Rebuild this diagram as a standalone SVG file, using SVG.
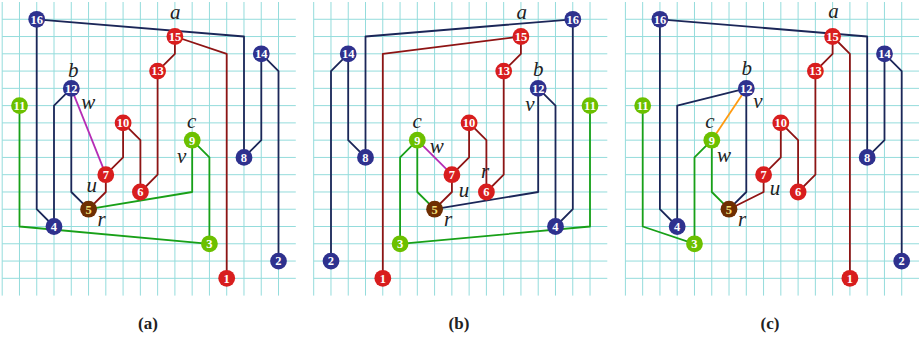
<svg xmlns="http://www.w3.org/2000/svg" width="924" height="340" viewBox="0 0 924 340">
<defs>
<style>
.gl{stroke:#94dcdc;stroke-width:1}
.e{fill:none;stroke-width:1.8;stroke-linejoin:round}
.nv{stroke:#1b2658}
.rd{stroke:#8e1414}
.gr{stroke:#18a018}
.mg{stroke:#b52cb5}
.or{stroke:#ff9a10}
.n circle{stroke:none}
.b circle{fill:#2e318e}
.r circle{fill:#d81e1e}
.g circle{fill:#6cc000}
.br circle{fill:#6e2e02}
.n text{font-family:"Liberation Serif",serif;font-weight:bold;font-size:12.5px;fill:#fff;text-anchor:middle}
.br text{fill:#f4e27a}
.lb{font-family:"Liberation Serif",serif;font-style:italic;font-size:21px;fill:#222;text-anchor:middle}
.cap{font-family:"Liberation Serif",serif;font-weight:bold;font-size:17px;fill:#222;text-anchor:middle}
</style>
<g id="grid">
<path class="gl" d="M0 2V295.6M17.27 2V295.6M34.54 2V295.6M51.81 2V295.6M69.08 2V295.6M86.35 2V295.6M103.62 2V295.6M120.89 2V295.6M138.16 2V295.6M155.43 2V295.6M172.7 2V295.6M189.97 2V295.6M207.24 2V295.6M224.51 2V295.6M241.78 2V295.6M259.05 2V295.6M276.32 2V295.6"/>
<path class="gl" d="M0 19.27H293.6M0 36.54H293.6M0 53.81H293.6M0 71.08H293.6M0 88.35H293.6M0 105.62H293.6M0 122.89H293.6M0 140.16H293.6M0 157.43H293.6M0 174.7H293.6M0 191.97H293.6M0 209.24H293.6M0 226.51H293.6M0 243.78H293.6M0 261.05H293.6M0 278.32H293.6"/>
</g>
</defs>

<!-- Panel (a) -->
<g id="panel-a" transform="translate(2.2,0)">
<use href="#grid"/>
<g id="a-edges">
<polyline class="e nv" points="34.5,19.3 241.8,36.5 241.8,157.4"/>
<polyline class="e nv" points="34.5,19.3 34.5,209.2 51.8,226.5"/>
<polyline class="e nv" points="69.1,88.4 51.8,105.6 51.8,226.5"/>
<polyline class="e nv" points="69.1,88.4 69.1,192 86.4,209.2"/>
<polyline class="e nv" points="259.1,53.8 276.3,71.1 276.3,261.1"/>
<polyline class="e nv" points="259.1,53.8 259.1,140.2 241.8,157.4"/>
<polyline class="e rd" points="103.6,174.7 120.9,157.4 120.9,122.9"/>
<polyline class="e rd" points="103.6,174.7 103.6,192 86.4,209.2"/>
<polyline class="e rd" points="120.9,122.9 138.2,140.2 138.2,192"/>
<polyline class="e rd" points="138.2,192 155.4,174.7 155.4,71.1"/>
<polyline class="e rd" points="155.4,71.1 172.7,53.8 172.7,36.5"/>
<polyline class="e rd" points="172.7,36.5 224.5,53.8 224.5,278.3"/>
<polyline class="e gr" points="17.3,105.6 17.3,226.5 207.2,243.8"/>
<polyline class="e gr" points="207.2,243.8 207.2,157.4 190,140.2"/>
<polyline class="e gr" points="190,140.2 190,192 86.4,209.2"/>
<line class="e mg" x1="69.1" y1="88.4" x2="103.6" y2="174.7"/>
</g>
<g id="a16" class="n b"><circle cx="34.5" cy="19.3" r="8.4"/><text x="34.5" y="23.6">16</text></g>
<g id="a15" class="n r"><circle cx="172.7" cy="36.5" r="8.4"/><text x="172.7" y="40.8">15</text></g>
<g id="a14" class="n b"><circle cx="259.1" cy="53.8" r="8.4"/><text x="259.1" y="58.1">14</text></g>
<g id="a13" class="n r"><circle cx="155.4" cy="71.1" r="8.4"/><text x="155.4" y="75.4">13</text></g>
<g id="a12" class="n b"><circle cx="69.1" cy="88.4" r="8.4"/><text x="69.1" y="92.7">12</text></g>
<g id="a11" class="n g"><circle cx="17.3" cy="105.6" r="8.4"/><text x="17.3" y="109.9">11</text></g>
<g id="a10" class="n r"><circle cx="120.9" cy="122.9" r="8.4"/><text x="120.9" y="127.2">10</text></g>
<g id="a9" class="n g"><circle cx="190" cy="140.2" r="8.4"/><text x="190" y="144.5">9</text></g>
<g id="a8" class="n b"><circle cx="241.8" cy="157.4" r="8.4"/><text x="241.8" y="161.7">8</text></g>
<g id="a7" class="n r"><circle cx="103.6" cy="174.7" r="8.4"/><text x="103.6" y="179">7</text></g>
<g id="a6" class="n r"><circle cx="138.2" cy="192" r="8.4"/><text x="138.2" y="196.3">6</text></g>
<g id="a5" class="n br"><circle cx="86.4" cy="209.2" r="8.4"/><text x="86.4" y="213.5">5</text></g>
<g id="a4" class="n b"><circle cx="51.8" cy="226.5" r="8.4"/><text x="51.8" y="230.8">4</text></g>
<g id="a3" class="n g"><circle cx="207.2" cy="243.8" r="8.4"/><text x="207.2" y="248.1">3</text></g>
<g id="a2" class="n b"><circle cx="276.3" cy="261.1" r="8.4"/><text x="276.3" y="265.4">2</text></g>
<g id="a1" class="n r"><circle cx="224.5" cy="278.3" r="8.4"/><text x="224.5" y="282.6">1</text></g>
<g id="a-labels">
<text class="lb" x="173" y="19">a</text>
<text class="lb" x="71" y="77">b</text>
<text class="lb" x="86" y="109">w</text>
<text class="lb" x="189.5" y="127.5">c</text>
<text class="lb" x="179.5" y="163">v</text>
<text class="lb" x="89.5" y="192">u</text>
<text class="lb" x="99.5" y="226">r</text>
</g>
</g>

<!-- Panel (b) -->
<g id="panel-b" transform="translate(313.7,0)">
<use href="#grid"/>
<g id="b-edges">
<polyline class="e nv" points="259.1,19.3 51.8,36.5 51.8,157.4"/>
<polyline class="e nv" points="259.1,19.3 259.1,209.2 241.8,226.5"/>
<polyline class="e nv" points="224.5,88.4 241.8,105.6 241.8,226.5"/>
<polyline class="e nv" points="224.5,88.4 224.5,192 120.9,209.2"/>
<polyline class="e nv" points="34.5,53.8 17.3,71.1 17.3,261.1"/>
<polyline class="e nv" points="34.5,53.8 34.5,140.2 51.8,157.4"/>
<polyline class="e rd" points="207.2,36.5 69.1,53.8 69.1,278.3"/>
<polyline class="e rd" points="207.2,36.5 207.2,53.8 190,71.1"/>
<polyline class="e rd" points="190,71.1 190,174.7 172.7,192"/>
<polyline class="e rd" points="155.4,122.9 172.7,140.2 172.7,192"/>
<polyline class="e rd" points="155.4,122.9 155.4,157.4 138.2,174.7"/>
<polyline class="e rd" points="138.2,174.7 138.2,192 120.9,209.2"/>
<polyline class="e gr" points="103.6,140.2 103.6,192 120.9,209.2"/>
<polyline class="e gr" points="103.6,140.2 86.4,157.4 86.4,243.8"/>
<polyline class="e gr" points="86.4,243.8 276.3,226.5 276.3,105.6"/>
<line class="e mg" x1="103.6" y1="140.2" x2="138.2" y2="174.7"/>
</g>
<g id="b16" class="n b"><circle cx="259.1" cy="19.3" r="8.4"/><text x="259.1" y="23.6">16</text></g>
<g id="b15" class="n r"><circle cx="207.2" cy="36.5" r="8.4"/><text x="207.2" y="40.8">15</text></g>
<g id="b14" class="n b"><circle cx="34.5" cy="53.8" r="8.4"/><text x="34.5" y="58.1">14</text></g>
<g id="b13" class="n r"><circle cx="190" cy="71.1" r="8.4"/><text x="190" y="75.4">13</text></g>
<g id="b12" class="n b"><circle cx="224.5" cy="88.4" r="8.4"/><text x="224.5" y="92.7">12</text></g>
<g id="b11" class="n g"><circle cx="276.3" cy="105.6" r="8.4"/><text x="276.3" y="109.9">11</text></g>
<g id="b10" class="n r"><circle cx="155.4" cy="122.9" r="8.4"/><text x="155.4" y="127.2">10</text></g>
<g id="b9" class="n g"><circle cx="103.6" cy="140.2" r="8.4"/><text x="103.6" y="144.5">9</text></g>
<g id="b8" class="n b"><circle cx="51.8" cy="157.4" r="8.4"/><text x="51.8" y="161.7">8</text></g>
<g id="b7" class="n r"><circle cx="138.2" cy="174.7" r="8.4"/><text x="138.2" y="179">7</text></g>
<g id="b6" class="n r"><circle cx="172.7" cy="192" r="8.4"/><text x="172.7" y="196.3">6</text></g>
<g id="b5" class="n br"><circle cx="120.9" cy="209.2" r="8.4"/><text x="120.9" y="213.5">5</text></g>
<g id="b4" class="n b"><circle cx="241.8" cy="226.5" r="8.4"/><text x="241.8" y="230.8">4</text></g>
<g id="b3" class="n g"><circle cx="86.4" cy="243.8" r="8.4"/><text x="86.4" y="248.1">3</text></g>
<g id="b2" class="n b"><circle cx="17.3" cy="261.1" r="8.4"/><text x="17.3" y="265.4">2</text></g>
<g id="b1" class="n r"><circle cx="69.1" cy="278.3" r="8.4"/><text x="69.1" y="282.6">1</text></g>
<g id="b-labels">
<text class="lb" x="208" y="19">a</text>
<text class="lb" x="224.6" y="76">b</text>
<text class="lb" x="216.3" y="111">v</text>
<text class="lb" x="103.6" y="128">c</text>
<text class="lb" x="123" y="153">w</text>
<text class="lb" x="150.3" y="196.5">u</text>
<text class="lb" x="134.3" y="226">r</text>
<text class="lb" x="171.3" y="178">r</text>
</g>
</g>

<!-- Panel (c) -->
<g id="panel-c" transform="translate(625.4,0)">
<use href="#grid"/>
<g id="c-edges">
<polyline class="e nv" points="34.5,19.3 241.8,36.5 241.8,157.4"/>
<polyline class="e nv" points="34.5,19.3 34.5,209.2 51.8,226.5"/>
<polyline class="e nv" points="120.9,88.4 51.8,105.6 51.8,226.5"/>
<polyline class="e nv" points="120.9,88.4 120.9,192 103.6,209.2"/>
<polyline class="e nv" points="259.1,53.8 276.3,71.1 276.3,261.1"/>
<polyline class="e nv" points="259.1,53.8 259.1,140.2 241.8,157.4"/>
<polyline class="e rd" points="207.2,36.5 224.5,53.8 224.5,278.3"/>
<polyline class="e rd" points="207.2,36.5 207.2,53.8 190,71.1"/>
<polyline class="e rd" points="190,71.1 190,174.7 172.7,192"/>
<polyline class="e rd" points="155.4,122.9 172.7,140.2 172.7,192"/>
<polyline class="e rd" points="155.4,122.9 155.4,157.4 138.2,174.7"/>
<polyline class="e rd" points="138.2,174.7 138.2,192 103.6,209.2"/>
<polyline class="e gr" points="86.4,140.2 86.4,192 103.6,209.2"/>
<polyline class="e gr" points="86.4,140.2 69.1,157.4 69.1,243.8"/>
<polyline class="e gr" points="17.3,105.6 17.3,226.5 69.1,243.8"/>
<line class="e or" x1="120.9" y1="88.4" x2="86.4" y2="140.2"/>
</g>
<g id="c16" class="n b"><circle cx="34.5" cy="19.3" r="8.4"/><text x="34.5" y="23.6">16</text></g>
<g id="c15" class="n r"><circle cx="207.2" cy="36.5" r="8.4"/><text x="207.2" y="40.8">15</text></g>
<g id="c14" class="n b"><circle cx="259.1" cy="53.8" r="8.4"/><text x="259.1" y="58.1">14</text></g>
<g id="c13" class="n r"><circle cx="190" cy="71.1" r="8.4"/><text x="190" y="75.4">13</text></g>
<g id="c12" class="n b"><circle cx="120.9" cy="88.4" r="8.4"/><text x="120.9" y="92.7">12</text></g>
<g id="c11" class="n g"><circle cx="17.3" cy="105.6" r="8.4"/><text x="17.3" y="109.9">11</text></g>
<g id="c10" class="n r"><circle cx="155.4" cy="122.9" r="8.4"/><text x="155.4" y="127.2">10</text></g>
<g id="c9" class="n g"><circle cx="86.4" cy="140.2" r="8.4"/><text x="86.4" y="144.5">9</text></g>
<g id="c8" class="n b"><circle cx="241.8" cy="157.4" r="8.4"/><text x="241.8" y="161.7">8</text></g>
<g id="c7" class="n r"><circle cx="138.2" cy="174.7" r="8.4"/><text x="138.2" y="179">7</text></g>
<g id="c6" class="n r"><circle cx="172.7" cy="192" r="8.4"/><text x="172.7" y="196.3">6</text></g>
<g id="c5" class="n br"><circle cx="103.6" cy="209.2" r="8.4"/><text x="103.6" y="213.5">5</text></g>
<g id="c4" class="n b"><circle cx="51.8" cy="226.5" r="8.4"/><text x="51.8" y="230.8">4</text></g>
<g id="c3" class="n g"><circle cx="69.1" cy="243.8" r="8.4"/><text x="69.1" y="248.1">3</text></g>
<g id="c2" class="n b"><circle cx="276.3" cy="261.1" r="8.4"/><text x="276.3" y="265.4">2</text></g>
<g id="c1" class="n r"><circle cx="224.5" cy="278.3" r="8.4"/><text x="224.5" y="282.6">1</text></g>
<g id="c-labels">
<text class="lb" x="208" y="18">a</text>
<text class="lb" x="121.3" y="75">b</text>
<text class="lb" x="132.6" y="108">v</text>
<text class="lb" x="84.6" y="128">c</text>
<text class="lb" x="98.6" y="162">w</text>
<text class="lb" x="149.6" y="195">u</text>
<text class="lb" x="116.6" y="226">r</text>
</g>
</g>

<g id="captions">
<text class="cap" x="148" y="329">(a)</text>
<text class="cap" x="459" y="329">(b)</text>
<text class="cap" x="770" y="329">(c)</text>
</g>
</svg>
